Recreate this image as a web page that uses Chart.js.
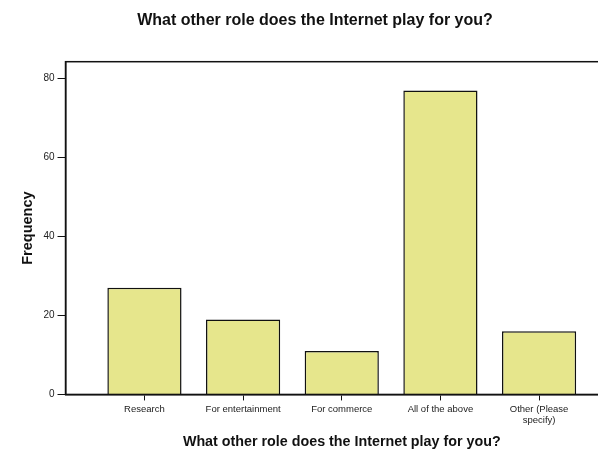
<!DOCTYPE html>
<html>
<head>
<meta charset="utf-8">
<script src="https://cdn.jsdelivr.net/npm/chart.js@4/dist/chart.umd.min.js"></script>
<style>
  html, body { margin: 0; padding: 0; background: #fff; overflow: hidden; }
  #wrap { width: 630px; height: 455px; position: relative; }
</style>
</head>
<body>
<div id="wrap"><canvas id="c"></canvas></div>
<script>
const categories = ["Research", "For entertainment", "For commerce", "All of the above", ["Other (Please", "specify)"]];
const frequency = [27, 19, 11, 77, 16];
const yTicks = [0, 20, 40, 60, 80];
const chartTitle = "What other role does the Internet play for you?";
const xTitle = "What other role does the Internet play for you?";
const yTitle = "Frequency";

const points = frequency.map((v, i) => ({ x: i + 1, y: v }));
const FONT = 'Liberation Sans, Arial, Helvetica, sans-serif';

const frame = {
  id: 'frame',
  afterDatasetsDraw(chart) {
    const a = chart.chartArea, ctx = chart.ctx;
    ctx.save();
    ctx.strokeStyle = '#111';
    ctx.lineWidth = 1.5;
    ctx.strokeRect(a.left, a.top, a.right - a.left, a.bottom - a.top);
    ctx.restore();
  }
};

new Chart(document.getElementById('c'), {
  type: 'bar',
  data: {
    datasets: [{
      data: points,
      backgroundColor: '#e6e68c',
      borderColor: '#111',
      borderWidth: 1.5,
      barPercentage: 0.94,
      categoryPercentage: 0.8
    }]
  },
  options: {
    responsive: true,
    maintainAspectRatio: false,
    animation: false,
    layout: { padding: { top: 8, right: 12, bottom: 4.5, left: 12 } },
    plugins: {
      legend: { display: false },
      tooltip: { enabled: false },
      title: {
        display: true,
        text: chartTitle,
        color: '#111',
        font: { family: FONT, size: 16, weight: 'bold' },
        padding: { top: 3, bottom: 31.5 }
      }
    },
    scales: {
      x: {
        type: 'linear',
        offset: false,
        min: 0.2,
        max: 5.8,
        afterBuildTicks(scale) { scale.ticks = categories.map((c, i) => ({ value: i + 1 })); },
        ticks: {
          autoSkip: false,
          maxRotation: 0,
          minRotation: 0,
          color: '#222',
          font: { family: FONT, size: 9.5, lineHeight: 1.1 },
          padding: 4,
          callback: (v) => categories[v - 1]
        },
        grid: { offset: false, drawOnChartArea: false, drawTicks: true, tickLength: 6, color: '#111', lineWidth: 1 },
        border: { display: true, color: '#111', width: 1.5 },
        title: {
          display: true,
          text: xTitle,
          color: '#111',
          font: { family: FONT, size: 14.3, weight: 'bold' },
          padding: { top: 4, bottom: 0 }
        }
      },
      y: {
        min: 0,
        max: 84.3,
        afterBuildTicks(scale) { scale.ticks = yTicks.map(v => ({ value: v })); },
        ticks: {
          color: '#222',
          font: { family: FONT, size: 10 },
          padding: 3
        },
        grid: { drawOnChartArea: false, drawTicks: true, tickLength: 8, color: '#111', lineWidth: 1 },
        border: { display: true, color: '#111', width: 1.5 },
        title: {
          display: true,
          text: yTitle,
          color: '#111',
          font: { family: FONT, size: 14.5, weight: 'bold' },
          padding: { top: 7, bottom: 4 }
        }
      }
    }
  },
  plugins: [frame]
});
</script>
</body>
</html>
